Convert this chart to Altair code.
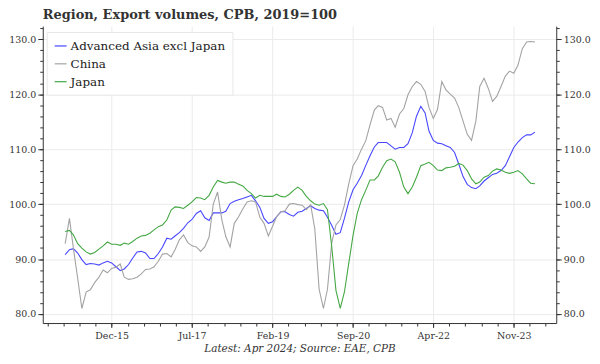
import altair as alt
import pandas as pd

# ---- data (monthly, Jan 2015 .. Apr 2024) ----
start_month = "2015-01-01"
n_months = 112
series_names = ["Advanced Asia excl Japan", "China", "Japan"]
series_colors = ["#4747ff", "#a3a3a3", "#45a845"]

asia = [90.8, 91.7, 91.9, 91.1, 89.9, 89.0, 89.2, 89.1, 88.9, 89.3,
        89.6, 89.3, 88.6, 87.9, 88.2, 89.0, 90.2, 91.3, 91.4, 91.1,
        90.1, 90.1, 91.0, 92.2, 93.8, 93.6, 94.2, 94.8, 95.6, 96.6,
        97.2, 98.3, 98.8, 97.5, 97.0, 98.4, 98.4, 98.4, 98.7, 100.1,
        100.5, 100.8, 101.0, 101.3, 101.6, 100.6, 99.4, 97.4, 96.5, 96.8,
        97.7, 98.6, 98.6, 98.1, 97.8, 98.5, 98.7, 99.2, 99.7, 99.2,
        98.9, 98.8, 97.6, 96.1, 94.5, 94.8, 97.4, 100.4, 102.6, 103.8,
        105.2, 107.0, 108.8, 110.4, 111.2, 111.2, 111.2, 110.6, 110.0, 110.3,
        110.3, 111.0, 113.0, 116.0, 117.8, 116.6, 113.3, 111.6, 111.1, 111.0,
        110.6, 110.3, 109.4, 107.3, 105.0, 103.6, 103.0, 102.8, 103.3, 104.2,
        104.8, 105.4, 105.6, 106.1, 107.0, 108.6, 110.3, 111.3, 112.1, 112.6,
        112.6, 113.1]

china = [92.8, 97.4, 92.0, 86.5, 81.0, 84.0, 84.4, 85.7, 86.7, 88.0,
         87.5, 88.3, 88.5, 89.1, 86.7, 86.3, 86.4, 86.7, 87.3, 88.1,
         88.2, 88.6, 89.6, 90.9, 91.0, 90.4, 91.7, 93.5, 94.4, 93.0,
         92.4, 92.2, 91.4, 92.2, 94.0, 100.0, 102.2, 97.1, 94.1, 92.2,
         96.5, 97.7, 99.1, 100.4, 100.6, 100.4, 97.6, 96.5, 94.2, 96.0,
         97.7, 98.6, 98.8, 100.0, 100.1, 99.9, 99.8, 99.0, 99.9, 95.5,
         84.5, 81.0, 84.5, 93.0, 96.2, 97.2, 99.8, 103.7, 107.0, 108.2,
         110.0, 111.5, 114.4, 117.1, 117.9, 117.6, 115.3, 115.6, 114.0, 116.4,
         117.4, 119.9, 121.4, 122.3, 121.8, 120.5, 117.6, 115.6, 117.2, 122.3,
         120.8, 120.0, 119.3, 117.6, 115.1, 112.7, 111.6, 115.1, 121.4, 122.9,
         121.1, 118.7, 119.6, 121.4, 123.3, 124.2, 123.8, 125.3, 128.3, 129.5,
         129.6, 129.5]

japan = [95.0, 95.2, 94.4, 92.8, 92.0, 91.3, 90.9, 91.2, 91.8, 92.4,
         93.1, 92.7, 92.7, 92.5, 92.9, 92.7, 93.2, 93.8, 94.2, 94.3,
         94.7, 95.3, 95.9, 96.2, 97.1, 98.9, 99.5, 99.4, 99.2, 99.8,
         100.4, 101.2, 101.1, 100.8, 101.6, 103.1, 104.3, 104.0, 103.8, 104.0,
         104.0, 103.6, 103.3, 102.5, 101.9, 101.1, 101.6, 101.4, 101.4, 101.4,
         101.8, 101.4, 101.3, 101.8, 102.5, 103.1, 102.5, 101.4, 100.6, 100.0,
         99.8, 100.1, 99.0, 92.2, 84.3, 81.0, 84.0, 89.2, 94.3, 98.3,
         100.8, 102.5, 104.4, 104.4, 105.1, 106.7, 107.9, 108.2, 107.7, 105.8,
         103.1, 101.9, 103.1, 104.9, 107.0, 107.3, 107.6, 107.0, 106.2, 106.1,
         106.6, 106.7, 106.9, 107.4, 107.1, 106.1, 104.6, 103.7, 104.0, 104.9,
         105.2, 106.0, 106.4, 106.2, 105.8, 105.6, 105.8, 106.1, 105.5, 104.6,
         103.8, 103.7]

x_major_dates = ["2015-12-01", "2017-07-01", "2019-02-01",
                 "2020-09-01", "2022-04-01", "2023-11-01"]
x_domain_dates = ["2014-07-24", "2024-09-01"]
y_domain = [78.35, 132.4]
y_major = [80, 90, 100, 110, 120, 130]
y_minor = list(range(78, 134, 2))

title_text = "Region, Export volumes, CPB, 2019=100"
footer_text = "Latest: Apr 2024; Source: EAE, CPB"

# ---- build table ----
dates = pd.date_range(start_month, periods=n_months, freq="MS").strftime("%Y-%m-%d").tolist()
df = pd.DataFrame({
    "date": dates * 3,
    "series": [series_names[0]] * n_months + [series_names[1]] * n_months + [series_names[2]] * n_months,
    "value": asia + china + japan,
})


def ms(s):
    return int(pd.Timestamp(s, tz="UTC").timestamp() * 1000)


x_domain = [ms(d) for d in x_domain_dates]
x_major = [ms(d) for d in x_major_dates]
step = (x_major[1] - x_major[0]) / 5
x_minor = [x_major[0] + k * step for k in range(-10, 40)]
x_minor = [v for v in x_minor if x_domain[0] <= v <= x_domain[1]]

FONT = "DejaVu Serif"
xscale = alt.Scale(type="utc", domain=x_domain)
yscale = alt.Scale(domain=y_domain, nice=False, zero=False)

base = alt.Chart(df)

lines = base.mark_line(strokeWidth=1.1, clip=True).encode(
    x=alt.X("date:T", scale=xscale,
            axis=alt.Axis(values=x_major, labelExpr="utcFormat(datum.value, '%b-%y')",
                          orient="bottom", grid=True, title=footer_text, tickSize=4.5,
                          labelPadding=3, titlePadding=4, titleFontStyle="italic",
                          titleFontWeight="normal", titleFont=FONT, titleFontSize=10.5,
                          titleColor="#333")),
    y=alt.Y("value:Q", scale=yscale,
            axis=alt.Axis(values=y_major, format=".1f", orient="left", grid=True, title=None,
                          tickSize=5, labelPadding=2)),
    color=alt.Color("series:N", scale=alt.Scale(domain=series_names, range=series_colors),
                    legend=alt.Legend(title=None, orient="none", legendX=4, legendY=6,
                                      symbolType="stroke", symbolSize=144, symbolStrokeWidth=1.2,
                                      labelFont=FONT, labelFontSize=12, labelColor="#222",
                                      fillColor="white", strokeColor="#e8e8e8", padding=7,
                                      rowPadding=5, labelOffset=3)),
)

right_axis = base.mark_line(strokeOpacity=0).encode(
    x=alt.X("date:T", scale=xscale,
            axis=alt.Axis(values=x_minor, orient="bottom", labels=False, tickSize=3,
                          grid=False, domain=False, title=None)),
    y=alt.Y("value:Q", scale=yscale,
            axis=alt.Axis(values=y_major, format=".1f", orient="right", grid=False, title=None,
                          tickSize=5, labelPadding=2)),
    detail="series:N",
)

left_minor = base.mark_line(strokeOpacity=0).encode(
    x=alt.X("date:T", scale=xscale, axis=None),
    y=alt.Y("value:Q", scale=yscale,
            axis=alt.Axis(values=y_minor, orient="left", labels=False, tickSize=3,
                          grid=False, domain=False, title=None)),
    detail="series:N",
)

right_minor = base.mark_line(strokeOpacity=0).encode(
    x=alt.X("date:T", scale=xscale, axis=None),
    y=alt.Y("value:Q", scale=yscale,
            axis=alt.Axis(values=y_minor, orient="right", labels=False, tickSize=3,
                          grid=False, domain=False, title=None)),
    detail="series:N",
)

chart = alt.layer(lines, right_axis, left_minor, right_minor).resolve_axis(
    x="independent", y="independent"
).properties(
    width=517, height=299,
    autosize=alt.AutoSizeParams(type="none"),
    padding={"left": 35, "top": 17, "right": 36, "bottom": 36},
    title=alt.TitleParams(title_text, anchor="start", frame="group", font=FONT,
                          fontSize=13, fontWeight="bold", color="#333", offset=4),
).configure_axis(
    labelFont=FONT, labelFontSize=9.5, labelColor="#333",
    domainColor="#333", tickColor="#333", gridColor="#ebebeb", gridWidth=1,
).configure_view(stroke=None)

chart.save("out.html", embed_options={"renderer": "svg", "actions": False})
